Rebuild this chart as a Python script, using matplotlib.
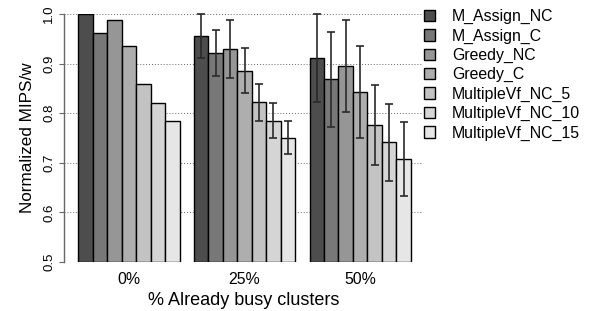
import matplotlib
matplotlib.use("Agg")
import matplotlib.pyplot as plt
from matplotlib.patches import Patch
import numpy as np

plt.rcParams['font.family'] = ['Liberation Sans', 'DejaVu Sans']

grupos = ["0%", "25%", "50%"]
series = ["M_Assign_NC", "M_Assign_C", "Greedy_NC", "Greedy_C",
          "MultipleVf_NC_5", "MultipleVf_NC_10", "MultipleVf_NC_15"]
cores = ["#4D4D4D", "#787878", "#969696", "#AEAEAE", "#C3C3C3", "#D5D5D5", "#E6E6E6"]

# valores por grupo (uma lista por série)
val_0 = [1.000, 0.961, 0.987, 0.935, 0.859, 0.820, 0.784]
val_25 = [0.956, 0.921, 0.929, 0.886, 0.822, 0.785, 0.751]
val_50 = [0.911, 0.868, 0.895, 0.842, 0.776, 0.741, 0.708]
err_25 = [0.045, 0.047, 0.058, 0.046, 0.037, 0.036, 0.034]
err_50 = [0.089, 0.095, 0.092, 0.093, 0.081, 0.078, 0.074]

valores = [val_0, val_25, val_50]
erros = [None, err_25, err_50]

fig = plt.figure(figsize=(5.97, 3.11), dpi=100)
ax = fig.add_axes([64.4 / 597, 1 - 262 / 311, (422 - 64.4) / 597, (262 - 14) / 311])

# linhas de grade pontilhadas
for yv in np.arange(0.5, 1.01, 0.1):
    ax.axhline(yv, color="#666666", lw=0.7, ls=(0, (1, 2)), zorder=0)

n = len(series)
centros = []
for g, (vals, errs) in enumerate(zip(valores, erros)):
    x0 = 1 + g * (n + 1)
    xs = x0 + np.arange(n) + 0.5
    centros.append(x0 + n / 2)
    ax.bar(xs, np.array(vals) - 0.5, bottom=0.5, width=1.0, color=cores,
           edgecolor="black", linewidth=1.0, zorder=2)
    if errs is not None:
        ax.errorbar(xs, vals, yerr=errs, fmt="none", ecolor="#2a2a2a",
                    elinewidth=1.2, capsize=2.8, capthick=1.2, zorder=3,
                    clip_on=False)

ax.set_xlim(0.03, 24.78)
ax.set_ylim(0.5, 1.0)
for s in ["top", "right", "bottom"]:
    ax.spines[s].set_visible(False)
ax.spines["left"].set_color("#666666")
ax.spines["left"].set_linewidth(1.0)

ax.set_yticks(np.arange(0.5, 1.01, 0.1))
ax.set_yticklabels([f"{v:.1f}" for v in np.arange(0.5, 1.01, 0.1)],
                   rotation=90, va="center", fontsize=9.5)
ax.tick_params(axis="y", length=3.6, color="#666666", pad=3)

ax.set_xticks(centros)
ax.set_xticklabels(grupos, fontsize=11.4)
ax.tick_params(axis="x", length=0, pad=7)

ax.set_ylabel("Normalized MIPS/w", fontsize=12.3, labelpad=6)
ax.set_xlabel("% Already busy clusters", fontsize=13, labelpad=4)

handles = [Patch(facecolor=c, edgecolor="black", linewidth=1.0) for c in cores]
fig.legend(handles, series, loc="upper left", bbox_to_anchor=(424 / 597, 1 - 9 / 311),
           frameon=False, fontsize=11.4, handlelength=0.72, handleheight=0.72,
           handletextpad=1.05, labelspacing=0.27, borderpad=0, borderaxespad=0)

plt.savefig("out.png", dpi=100)
